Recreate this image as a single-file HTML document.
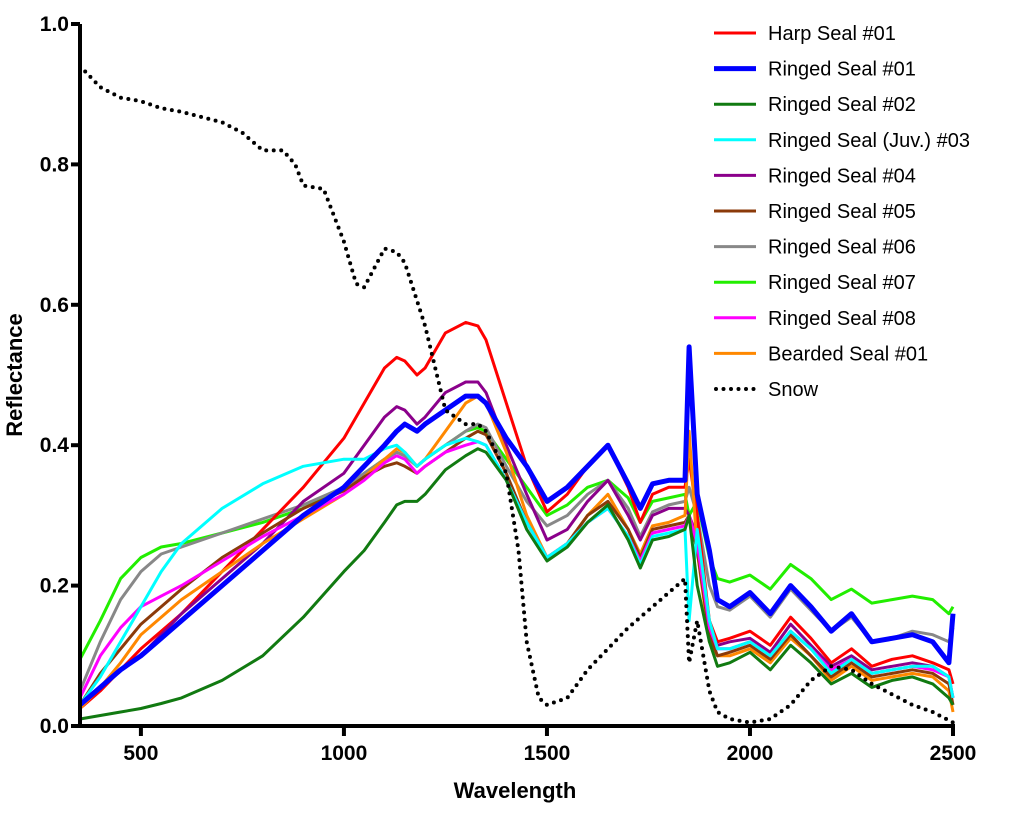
<!DOCTYPE html>
<html><head><meta charset="utf-8"><style>
html,body{margin:0;padding:0;background:#fff;}
svg{display:block;font-family:"Liberation Sans",Arial,sans-serif;}
</style></head><body>
<svg id="chart" width="1024" height="817" viewBox="0 0 1024 817">
<g id="plot"></g>
<g id="axes"></g>
<g id="legend"></g>
<text x="515" y="798" text-anchor="middle" font-size="22" font-weight="bold">Wavelength</text>
<text transform="translate(22,375) rotate(-90)" text-anchor="middle" font-size="22" font-weight="bold">Reflectance</text>
</svg>
<script>
const wl = [350,400,450,500,550,600,700,800,900,1000,1050,1100,1130,1150,1180,1200,1250,1300,1330,1350,1400,1450,1500,1550,1600,1650,1700,1730,1760,1800,1840,1850,1870,1900,1920,1950,2000,2050,2100,2150,2200,2250,2300,2350,2400,2450,2490,2500];
const harp01 = [0.025,0.05,0.08,0.11,0.135,0.16,0.22,0.28,0.34,0.41,0.46,0.51,0.525,0.52,0.50,0.51,0.56,0.575,0.57,0.55,0.46,0.37,0.305,0.33,0.37,0.40,0.34,0.29,0.33,0.34,0.34,0.38,0.30,0.15,0.12,0.125,0.135,0.115,0.155,0.125,0.09,0.11,0.085,0.095,0.10,0.09,0.08,0.06];
const ringed01 = [0.03,0.055,0.08,0.10,0.125,0.15,0.20,0.25,0.30,0.34,0.37,0.40,0.42,0.43,0.42,0.43,0.45,0.47,0.47,0.46,0.41,0.37,0.32,0.34,0.37,0.40,0.345,0.31,0.345,0.35,0.35,0.54,0.33,0.25,0.18,0.17,0.19,0.16,0.20,0.17,0.135,0.16,0.12,0.125,0.13,0.12,0.09,0.16];
const ringed02 = [0.01,0.015,0.02,0.025,0.032,0.04,0.065,0.10,0.155,0.22,0.25,0.29,0.315,0.32,0.32,0.33,0.365,0.385,0.395,0.39,0.35,0.28,0.235,0.255,0.29,0.315,0.265,0.225,0.265,0.27,0.28,0.30,0.20,0.12,0.085,0.09,0.105,0.08,0.115,0.09,0.06,0.075,0.055,0.065,0.07,0.06,0.04,0.03];
const ringed03 = [0.03,0.07,0.12,0.17,0.22,0.26,0.31,0.345,0.37,0.38,0.38,0.395,0.40,0.39,0.37,0.38,0.40,0.41,0.405,0.40,0.35,0.29,0.24,0.26,0.29,0.31,0.27,0.23,0.27,0.275,0.28,0.15,0.28,0.15,0.11,0.11,0.12,0.10,0.135,0.11,0.075,0.095,0.075,0.08,0.085,0.085,0.07,0.04];
const ringed04 = [0.03,0.055,0.08,0.10,0.13,0.16,0.21,0.26,0.32,0.36,0.40,0.44,0.455,0.45,0.43,0.44,0.475,0.49,0.49,0.475,0.40,0.33,0.265,0.28,0.32,0.35,0.30,0.265,0.30,0.31,0.31,0.30,0.27,0.14,0.115,0.12,0.125,0.105,0.145,0.115,0.085,0.10,0.08,0.085,0.09,0.085,0.07,0.04];
const ringed05 = [0.03,0.075,0.11,0.145,0.17,0.195,0.24,0.275,0.31,0.335,0.355,0.37,0.375,0.37,0.36,0.37,0.39,0.41,0.42,0.415,0.36,0.29,0.24,0.26,0.30,0.32,0.28,0.24,0.28,0.285,0.29,0.30,0.25,0.13,0.10,0.105,0.115,0.095,0.13,0.10,0.07,0.09,0.07,0.075,0.08,0.075,0.06,0.03];
const ringed06 = [0.05,0.12,0.18,0.22,0.245,0.255,0.275,0.295,0.315,0.34,0.36,0.38,0.39,0.385,0.37,0.38,0.40,0.42,0.43,0.425,0.37,0.32,0.285,0.30,0.33,0.35,0.31,0.27,0.305,0.315,0.32,0.34,0.30,0.20,0.17,0.165,0.185,0.155,0.195,0.165,0.135,0.155,0.12,0.125,0.135,0.13,0.12,0.14];
const ringed07 = [0.095,0.15,0.21,0.24,0.255,0.26,0.275,0.29,0.31,0.34,0.36,0.38,0.39,0.385,0.37,0.38,0.40,0.42,0.425,0.42,0.38,0.34,0.30,0.315,0.34,0.35,0.325,0.29,0.32,0.325,0.33,0.30,0.32,0.24,0.21,0.205,0.215,0.195,0.23,0.21,0.18,0.195,0.175,0.18,0.185,0.18,0.16,0.17];
const ringed08 = [0.04,0.10,0.14,0.17,0.185,0.20,0.235,0.27,0.30,0.33,0.35,0.375,0.385,0.38,0.36,0.37,0.39,0.40,0.405,0.40,0.35,0.29,0.24,0.26,0.29,0.31,0.27,0.235,0.275,0.28,0.285,0.30,0.26,0.14,0.11,0.11,0.12,0.10,0.135,0.11,0.08,0.095,0.075,0.08,0.085,0.08,0.07,0.04];
const bearded01 = [0.025,0.055,0.09,0.13,0.155,0.18,0.22,0.26,0.295,0.33,0.355,0.38,0.395,0.39,0.37,0.38,0.42,0.46,0.47,0.46,0.39,0.30,0.24,0.26,0.30,0.33,0.28,0.245,0.285,0.29,0.30,0.42,0.25,0.12,0.10,0.10,0.11,0.09,0.125,0.10,0.065,0.085,0.065,0.07,0.075,0.07,0.05,0.02];
const snowWl = [350,400,450,500,550,600,700,750,800,850,880,900,950,980,1000,1030,1050,1100,1130,1150,1200,1250,1300,1330,1350,1400,1430,1450,1480,1500,1550,1600,1650,1700,1750,1800,1840,1850,1870,1900,1920,1950,2000,2050,2100,2150,2200,2250,2300,2350,2400,2450,2500];
const snow = [0.94,0.91,0.895,0.89,0.88,0.875,0.86,0.845,0.82,0.82,0.80,0.77,0.765,0.72,0.69,0.63,0.625,0.68,0.675,0.66,0.57,0.45,0.43,0.43,0.42,0.36,0.25,0.12,0.04,0.03,0.04,0.08,0.11,0.14,0.165,0.19,0.21,0.09,0.15,0.05,0.02,0.01,0.005,0.01,0.03,0.065,0.085,0.08,0.06,0.045,0.03,0.02,0.005];
const legendLabels = ["Harp Seal #01","Ringed Seal #01","Ringed Seal #02","Ringed Seal (Juv.) #03","Ringed Seal #04","Ringed Seal #05","Ringed Seal #06","Ringed Seal #07","Ringed Seal #08","Bearded Seal #01","Snow"];
const xTicks = [500,1000,1500,2000,2500];
const yTicks = [0.0,0.2,0.4,0.6,0.8,1.0];

const NS = "http://www.w3.org/2000/svg";
const X0 = 80, X1 = 953, Y0 = 726, Y1 = 24;
function xs(w){ return X0 + (w-350)/(2500-350)*(X1-X0); }
function ys(v){ return Y0 - v*(Y0-Y1); }
function mk(tag, attrs, parent){ const e=document.createElementNS(NS,tag); for(const k in attrs) e.setAttribute(k,attrs[k]); parent.appendChild(e); return e; }

const series = [
 {w:wl,v:harp01,c:"#ff0000",sw:3,n:"harp-seal-01"},
 {w:wl,v:ringed01,c:"#0000ff",sw:5,n:"ringed-seal-01"},
 {w:wl,v:ringed02,c:"#117a11",sw:3,n:"ringed-seal-02"},
 {w:wl,v:ringed03,c:"#00ffff",sw:3,n:"ringed-seal-03"},
 {w:wl,v:ringed04,c:"#8b008b",sw:3,n:"ringed-seal-04"},
 {w:wl,v:ringed05,c:"#8b3a0a",sw:3,n:"ringed-seal-05"},
 {w:wl,v:ringed06,c:"#888888",sw:3,n:"ringed-seal-06"},
 {w:wl,v:ringed07,c:"#22ee00",sw:3,n:"ringed-seal-07"},
 {w:wl,v:ringed08,c:"#ff00ff",sw:3,n:"ringed-seal-08"},
 {w:wl,v:bearded01,c:"#ff8800",sw:3,n:"bearded-seal-01"},
 {w:snowWl,v:snow,c:"#000",sw:4,n:"snow",dot:true}
];
const plot = document.getElementById("plot");
const order = [7,6,0,4,9,5,8,3,2,1,10];
order.forEach(i=>{
  const s = series[i];
  const d = s.w.map((w,j)=>(j?"L":"M")+xs(w).toFixed(1)+","+ys(s.v[j]).toFixed(1)).join("");
  const p = mk("path",{d:d,fill:"none",stroke:s.c,"stroke-width":s.sw,"stroke-linejoin":"round"},plot);
  if(s.dot){ p.setAttribute("stroke-dasharray","0 7.5"); p.setAttribute("stroke-linecap","round"); }
  
  
});

const axes = document.getElementById("axes");
const ya = mk("line",{x1:X0,y1:Y1,x2:X0,y2:Y0+2,stroke:"#000","stroke-width":4},axes);


const xa = mk("line",{x1:X0-2,y1:Y0,x2:X1+2,y2:Y0,stroke:"#000","stroke-width":4},axes);


yTicks.forEach(t=>{
  const tk = mk("line",{x1:X0-9,y1:ys(t),x2:X0,y2:ys(t),stroke:"#000","stroke-width":4},axes);
  
  
  const tx = mk("text",{x:X0-11,y:ys(t)+7,"text-anchor":"end","font-size":21,"font-weight":"bold"},axes);
  tx.textContent = t.toFixed(1);
  
  
});
xTicks.forEach(t=>{
  const tk = mk("line",{x1:xs(t),y1:Y0,x2:xs(t),y2:Y0+10,stroke:"#000","stroke-width":4},axes);
  
  
  const tx = mk("text",{x:xs(t),y:Y0+34,"text-anchor":"middle","font-size":21,"font-weight":"bold"},axes);
  tx.textContent = t;
  
  
});

const legend = document.getElementById("legend");
legendLabels.forEach((lab,i)=>{
  const s = series[i];
  const y = 33 + i*35.6;
  const g = mk("g",{},legend);
  
  
  const ln = mk("line",{x1:714,y1:y,x2:756,y2:y,stroke:s.c,"stroke-width":s.sw},g);
  if(s.dot){ ln.setAttribute("stroke-dasharray","0 7.5"); ln.setAttribute("stroke-linecap","round"); ln.setAttribute("x1",716); }
  
  
  const tx = mk("text",{x:768,y:y+7,"font-size":20},g);
  tx.textContent = lab;
  
  
});
</script>
</body></html>
